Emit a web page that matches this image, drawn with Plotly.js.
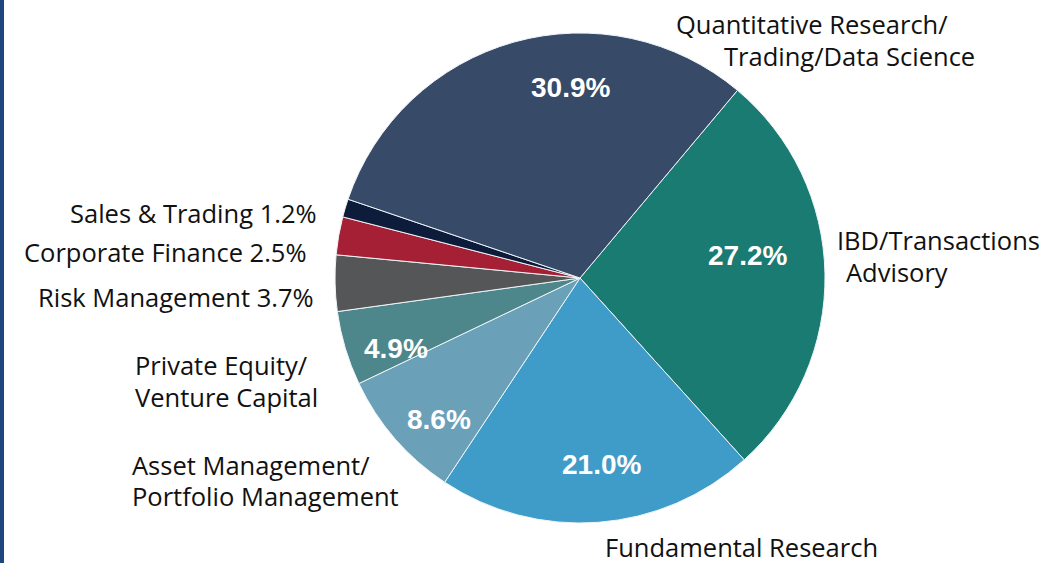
<!DOCTYPE html>
<html><head><meta charset="utf-8">
<script src="https://cdn.plot.ly/plotly-3.0.1.min.js"></script>
<style>html,body{margin:0;padding:0;background:#fff}#chart{width:1063px;height:563px}</style>
</head><body><div id="chart"></div>
<script>
// Data (clockwise order starting at IBD)
const categories = ["IBD/Transactions Advisory","Fundamental Research","Asset Management/Portfolio Management","Private Equity/Venture Capital","Risk Management","Corporate Finance","Sales & Trading","Quantitative Research/Trading/Data Science"];
const values = [27.2, 21.0, 8.6, 4.9, 3.7, 2.5, 1.2, 30.9];
const colors = ["#1a7b72","#3f9cc8","#6aa1b9","#4e878b","#555657","#a51f35","#0e1c3b","#374a68"];

const W = 1063, H = 563;
const px = x => x / W, py = y => 1 - y / H;
const pct = i => values[i].toFixed(1) + '%';

const labelFont = {family: '"Open Sans", "Noto Sans", sans-serif', size: 25.5, color: '#111'};
const pctFont = {family: 'Liberation Sans, Arial, sans-serif', size: 28, color: '#fff', weight: 'bold'};

function ann(text, x, y, xanchor, font) {
  return {text: text, x: px(x), y: py(y), xref: 'paper', yref: 'paper', xanchor: xanchor, yanchor: 'middle', showarrow: false, font: font};
}

const annotations = [
  // outside labels
  ann("Quantitative Research/", 674, 24, 'left', labelFont),
  ann("Trading/Data Science", 722, 56, 'left', labelFont),
  ann("IBD/Transactions", 835, 240, 'left', labelFont),
  ann("Advisory", 844, 272, 'left', labelFont),
  ann("Fundamental Research", 603, 547, 'left', labelFont),
  ann("Asset Management/", 130, 465, 'left', labelFont),
  ann("Portfolio Management", 130, 496, 'left', labelFont),
  ann("Private Equity/", 133, 365, 'left', labelFont),
  ann("Venture Capital", 133, 397, 'left', labelFont),
  ann("Risk Management " + pct(4), 316, 297, 'right', labelFont),
  ann("Corporate Finance " + pct(5), 309, 252, 'right', labelFont),
  ann("Sales & Trading " + pct(6), 319, 213, 'right', labelFont),
  // inside percentages
  ann(pct(7), 570, 88, 'center', pctFont),
  ann(pct(0), 747, 255, 'center', pctFont),
  ann(pct(1), 601, 464, 'center', pctFont),
  ann(pct(2), 439, 419, 'center', pctFont),
  ann(pct(3), 396, 348, 'center', pctFont)
];

const trace = {
  type: 'pie',
  labels: categories,
  values: values,
  sort: false,
  direction: 'clockwise',
  rotation: 40,
  textinfo: 'none',
  hoverinfo: 'label+percent',
  marker: {colors: colors, line: {color: '#eef4f7', width: 1}},
  domain: {x: [px(335), px(825)], y: [py(523), py(33)]},
  showlegend: false
};

const layout = {
  width: W, height: H,
  margin: {l: 0, r: 0, t: 0, b: 0},
  paper_bgcolor: '#fff',
  showlegend: false,
  annotations: annotations,
  shapes: [{type: 'rect', xref: 'paper', yref: 'paper', x0: 0, x1: px(4), y0: 0, y1: 1, fillcolor: '#1f4680', line: {width: 0}}]
};

Plotly.newPlot('chart', [trace], layout, {staticPlot: true});
</script></body></html>
